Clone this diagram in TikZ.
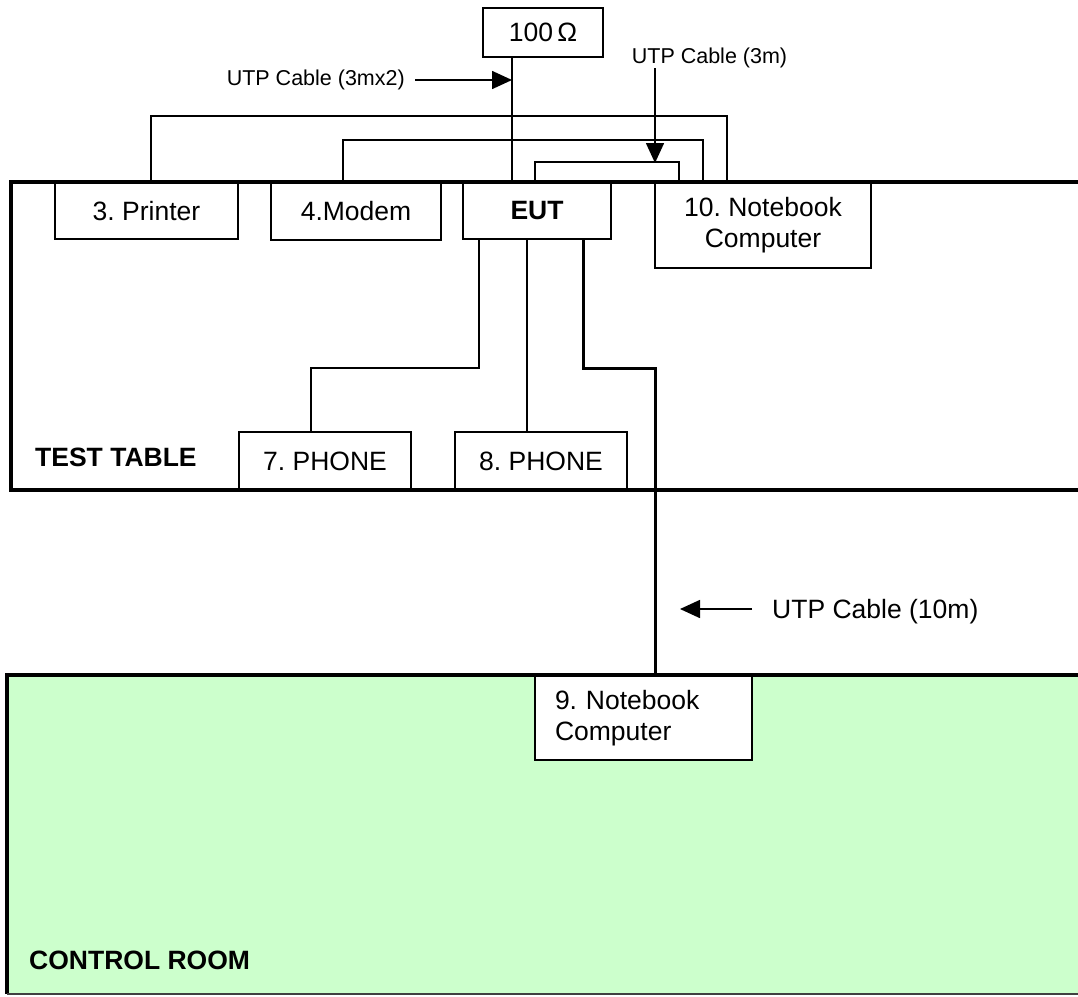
\documentclass[tikz,border=0pt]{standalone}
\usepackage{fontspec}
\setmainfont{Liberation Sans}
\usetikzlibrary{arrows.meta}
\definecolor{roomgreen}{RGB}{204,255,204}
\frenchspacing
\begin{document}
\begin{tikzpicture}[x=1pt,y=-1pt,
  box/.style={draw, line width=1.6pt, fill=white, inner sep=0pt, font=\fontsize{26.5}{31}\selectfont},
  thinline/.style={line width=1.6pt},
  thickcable/.style={line width=3pt},
  border/.style={line width=4.5pt},
  lbl/.style={font=\fontsize{21.5}{25}\selectfont, inner sep=0pt},
  biglbl/.style={font=\fontsize{26.5}{31}\selectfont\bfseries, inner sep=0pt},
  tip/.style={-{Triangle[length=20pt,width=18pt]}}
]
\useasboundingbox (0,0) rectangle (1078,996);
\clip (0,0) rectangle (1078,996);
\fill[roomgreen] (7,675) rectangle (1100,994);

% boxes
\node[box, minimum width=120pt, minimum height=49pt] (ohm) at (543,32.5) {100\,Ω};
\node[box, minimum width=183pt, minimum height=56pt] (printer) at (146.5,211) {3. Printer};
\node[box, minimum width=170pt, minimum height=57pt] (modem) at (356,211.5) {4.Modem};
\node[box, minimum width=148pt, minimum height=56pt] (EUT) at (537,211) {\bfseries EUT};
\node[box, minimum width=216pt, minimum height=85pt, align=center] (nb10) at (763,225.5) {10. Notebook\\Computer};
\node[box, minimum width=172pt, minimum height=58pt] (ph7) at (325,461) {7. PHONE};
\node[box, minimum width=172pt, minimum height=58pt] (ph8) at (541,461) {8. PHONE};
\node[box, minimum height=84pt, text width=177pt, inner xsep=20pt, align=left] (nb9) at (643.5,718) {9. Notebook\\Computer};

% cables to notebook 10
\draw[thinline] ([xshift=4.5pt]printer.north) |- ([xshift=-36pt,yshift=66pt]nb10.north) -- ([xshift=-36pt]nb10.north);
\draw[thinline] ([xshift=-13pt]modem.north) |- ([xshift=-60pt,yshift=42pt]nb10.north) -- ([xshift=-60pt]nb10.north);
\draw[thinline] ([xshift=-2pt]EUT.north) |- ([xshift=-84pt,yshift=20pt]nb10.north) -- ([xshift=-84pt]nb10.north);
\draw[thinline] ([xshift=-31pt]ohm.south) -- ([xshift=-25pt]EUT.north);

% phones
\draw[thinline] ([xshift=-58pt]EUT.south) |- ([xshift=-14pt,yshift=63pt]ph7.north) -- ([xshift=-14pt]ph7.north);
\draw[thinline] ([xshift=-10pt]EUT.south) -- ([xshift=-14pt]ph8.north);
\draw[thickcable] ([xshift=46pt]EUT.south) |- ([xshift=11.5pt,yshift=307pt]nb9.north) -- ([xshift=11.5pt]nb9.north);

% cable labels and arrows
\node[lbl, anchor=east] (l1) at (405,80) {UTP Cable (3mx2)};
\coordinate (a1) at (512,80);
\draw[thinline,tip] ([xshift=10pt]l1.east) -- (a1);
\node[lbl] (l2) at (709.5,58) {UTP Cable (3m)};
\coordinate (a2s) at (655,68);
\coordinate (a2e) at (655,163);
\draw[thinline,tip] (a2s) -- (a2e);
\coordinate (a3s) at (752,609);
\coordinate (a3e) at (680,609);
\draw[thinline,tip] (a3s) -- (a3e);
\node[biglbl, font=\fontsize{26.5}{31}\selectfont, anchor=west] (l3) at (772,612) {UTP Cable (10m)};

% areas
\draw[border] (1100,182) -- (11,182) -- (11,490) -- (1100,490);
\draw[border] (1100,675) -- (7,675) -- (7,994);
\draw[line width=2pt, black!75] (7,994) -- (1100,994);
\node[biglbl, anchor=west] (tt) at (35,457) {TEST TABLE};
\node[biglbl, anchor=west] (cr) at (29,960) {CONTROL ROOM};
\end{tikzpicture}
\end{document}
